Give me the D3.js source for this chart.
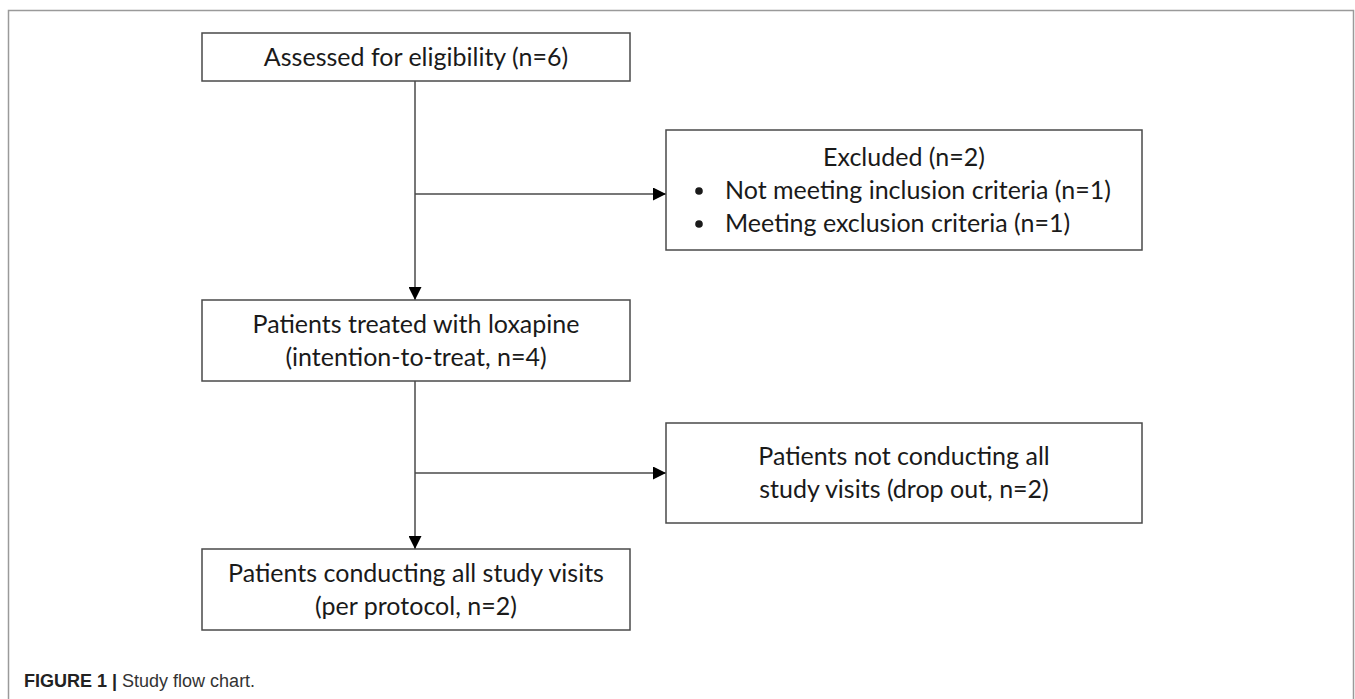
<!DOCTYPE html>
<html>
<head>
<meta charset="utf-8">
<script src="https://cdn.jsdelivr.net/npm/d3@7"></script>
<style>
  body { margin: 0; background: #fff; }
  .box-text { font-family: Lato, "Open Sans", sans-serif; fill: #1a1a1a; }
</style>
</head>
<body>
<div id="chart"></div>
<script>
// flow chart content
var boxIds = ["assessed", "excluded", "treated", "dropout", "perprotocol"];
var boxLines = [
    ["Assessed for eligibility (n=6)"],
    ["Excluded  (n=2)"],
    ["Patients treated with loxapine", "(intention-to-treat, n=4)"],
    ["Patients not conducting all", "study visits (drop out, n=2)"],
    ["Patients conducting all study visits", "(per protocol, n=2)"]
];
var bulletLines = [
    [],
    ["Not meeting inclusion criteria (n=1)", "Meeting exclusion criteria (n=1)"],
    [], [], []
];
var links = [
    ["assessed", "treated"],
    ["treated", "perprotocol"]
];
var sideLinks = [
    ["assessed", "excluded"],
    ["treated", "dropout"]
];
var captionBold = "FIGURE 1 |";
var captionText = " Study flow chart.";

var W = 1355, H = 699;

// layout grid (page pixels)
var col = d3.scaleOrdinal().domain(["main", "side"]).range([[202, 630], [666, 1142]]);
var row = d3.scaleOrdinal()
    .domain(boxIds)
    .range([[33, 81], [130, 250], [300, 381], [423, 523], [549, 630]]);
var boxCol = { assessed: "main", excluded: "side", treated: "main", dropout: "side", perprotocol: "main" };
var sideArrowY = { excluded: 194, dropout: 473 };

var boxes = boxIds.map(function(id, i) {
    var c = col(boxCol[id]), r = row(id);
    return { id: id, x0: c[0], x1: c[1], y0: r[0], y1: r[1], lines: boxLines[i], bullets: bulletLines[i] };
});
var byId = {};
boxes.forEach(function(b) { byId[b.id] = b; });

var svg = d3.select("#chart").append("svg")
    .attr("width", W)
    .attr("height", H);

svg.append("defs").append("marker")
    .attr("id", "arrow")
    .attr("viewBox", "0 0 10 10")
    .attr("refX", 10).attr("refY", 5)
    .attr("markerWidth", 15).attr("markerHeight", 13)
    .attr("markerUnits", "userSpaceOnUse")
    .attr("orient", "auto")
    .append("path")
    .attr("d", "M0,0L10,5L0,10Z")
    .attr("fill", "#000");

// outer frame
svg.append("path")
    .attr("d", "M8.5," + (H + 5) + "V10.5H1353.5V" + (H + 5))
    .attr("fill", "none")
    .attr("stroke", "#9a9a9a")
    .attr("stroke-width", 1.5);

var spineX = (byId.assessed.x0 + byId.assessed.x1) / 2 - 1;

// vertical links
svg.selectAll("line.down").data(links).enter().append("line")
    .attr("class", "down")
    .attr("x1", spineX).attr("x2", spineX)
    .attr("y1", function(d) { return byId[d[0]].y1; })
    .attr("y2", function(d) { return byId[d[1]].y0; })
    .attr("stroke", "#4a4a4a").attr("stroke-width", 1.5)
    .attr("marker-end", "url(#arrow)");

// side links
svg.selectAll("line.side").data(sideLinks).enter().append("line")
    .attr("class", "side")
    .attr("x1", spineX)
    .attr("x2", function(d) { return byId[d[1]].x0; })
    .attr("y1", function(d) { return sideArrowY[d[1]]; })
    .attr("y2", function(d) { return sideArrowY[d[1]]; })
    .attr("stroke", "#4a4a4a").attr("stroke-width", 1.5)
    .attr("marker-end", "url(#arrow)");

var g = svg.selectAll("g.box").data(boxes).enter().append("g").attr("class", "box");

g.append("rect")
    .attr("x", function(d) { return d.x0; })
    .attr("y", function(d) { return d.y0; })
    .attr("width", function(d) { return d.x1 - d.x0; })
    .attr("height", function(d) { return d.y1 - d.y0; })
    .attr("fill", "#fff")
    .attr("stroke", "#4a4a4a")
    .attr("stroke-width", 1.5);

var lineH = 33, fontSize = 25;

g.each(function(d) {
    var sel = d3.select(this);
    var n = d.lines.length + d.bullets.length;
    var cx = (d.x0 + d.x1) / 2;
    var top = (d.y0 + d.y1) / 2 - (n - 1) * lineH / 2;
    d.lines.forEach(function(t, i) {
        sel.append("text")
            .attr("class", "box-text")
            .attr("x", cx)
            .attr("y", top + i * lineH)
            .attr("dy", "0.35em")
            .attr("text-anchor", "middle")
            .style("font-size", fontSize + "px")
            .text(t);
    });
    d.bullets.forEach(function(t, j) {
        var y = top + (d.lines.length + j) * lineH;
        sel.append("circle")
            .attr("cx", d.x0 + 33)
            .attr("cy", y + 1)
            .attr("r", 3.8)
            .attr("fill", "#1a1a1a");
        sel.append("text")
            .attr("class", "box-text")
            .attr("x", d.x0 + 59)
            .attr("y", y)
            .attr("dy", "0.35em")
            .style("font-size", fontSize + "px")
            .text(t);
    });
});

// caption
var cap = svg.append("text")
    .attr("x", 24)
    .attr("y", 687)
    .style("font-family", "'Liberation Sans', Arial, sans-serif")
    .style("font-size", "18px")
    .attr("fill", "#333");
cap.append("tspan").style("font-weight", "bold").attr("fill", "#222").text(captionBold);
cap.append("tspan").text(captionText);
</script>
</body>
</html>
